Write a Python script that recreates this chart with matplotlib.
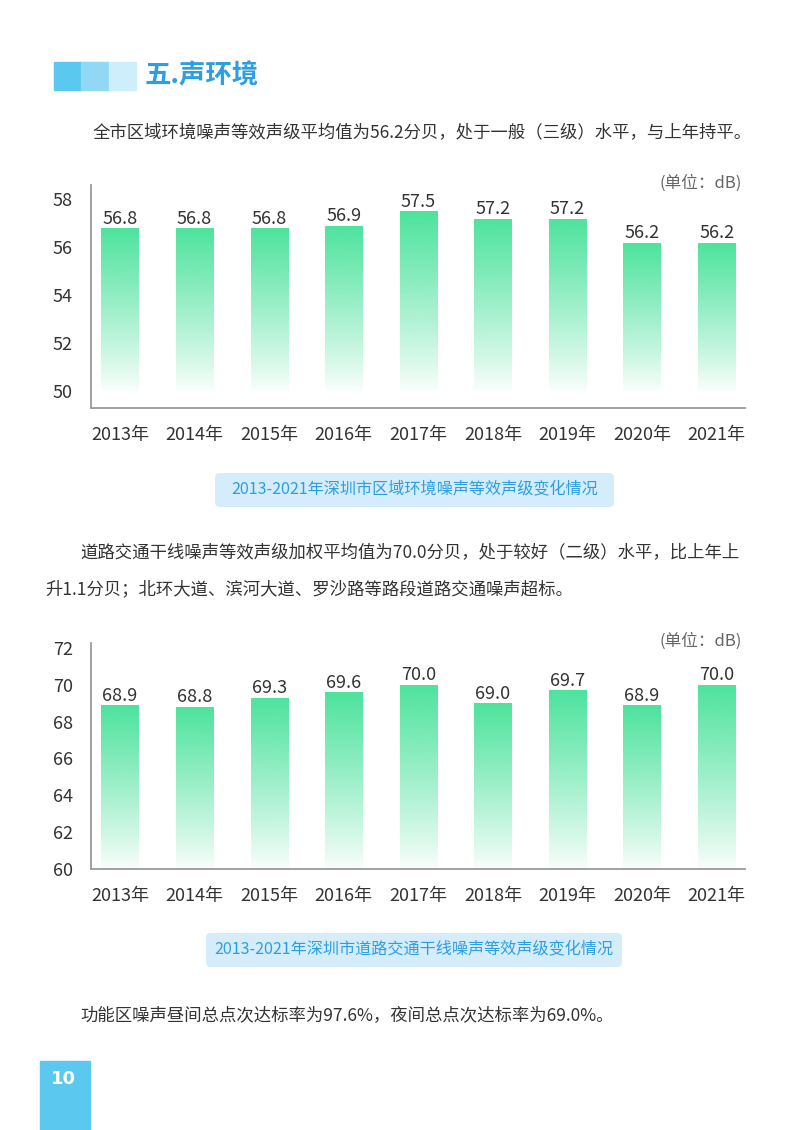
import numpy as np
import matplotlib.pyplot as plt
from matplotlib.patches import Rectangle, FancyBboxPatch

plt.rcParams['font.family'] = ['Noto Sans CJK SC', 'DejaVu Sans']

# 数据
years = ['2013年', '2014年', '2015年', '2016年', '2017年', '2018年', '2019年', '2020年', '2021年']
area_noise = [56.8, 56.8, 56.8, 56.9, 57.5, 57.2, 57.2, 56.2, 56.2]
road_noise = [68.9, 68.8, 69.3, 69.6, 70.0, 69.0, 69.7, 68.9, 70.0]
area_ticks = [50, 52, 54, 56, 58]
road_ticks = [60, 62, 64, 66, 68, 70, 72]

GREEN = np.array([0x4d, 0xe3, 0x9d]) / 255
TXT = '#333333'
BLUE = '#2c9fe2'


def gradient_bars(ax, values, base, ylim, ticks):
    bars = ax.bar(range(len(values)), np.array(values) - base, bottom=base,
                  width=0.5, color='none', edgecolor='none')
    grad = np.zeros((256, 1, 4))
    grad[:, 0, :3] = GREEN
    grad[:, 0, 3] = np.linspace(1.0, 0.02, 256) ** 0.9
    for b, v in zip(bars, values):
        x0, w = b.get_x(), b.get_width()
        im = ax.imshow(grad, extent=[x0, x0 + w, base, v], aspect='auto',
                       interpolation='bilinear', zorder=2)
        im.set_clip_path(b)
        ax.text(x0 + w / 2, v + (ylim[1] - ylim[0]) * 0.002, f'{v:.1f}',
                ha='center', va='bottom', fontsize=13, color=TXT)
    ax.set_xlim(-0.39, len(values) - 0.62)
    ax.set_ylim(*ylim)
    ax.set_yticks(ticks)
    ax.set_xticks(range(len(values)))
    ax.set_xticklabels(years)
    for s in ['top', 'right']:
        ax.spines[s].set_visible(False)
    for s in ['left', 'bottom']:
        ax.spines[s].set_color('#9a9a9a')
        ax.spines[s].set_linewidth(1.3)
    ax.tick_params(length=0, labelsize=13, colors=TXT)
    ax.tick_params(axis='x', pad=13)
    ax.tick_params(axis='y', pad=13)
    ax.text(0.995, 1.01, '(单位：dB)', transform=ax.transAxes, ha='right',
            va='center', fontsize=12, color='#666666')


fig = plt.figure(figsize=(8, 11.3), dpi=100)

# 标题
for i, c in enumerate(['#5bc8f0', '#90d8f4', '#cdeefa']):
    fig.patches.append(Rectangle(((54 + 27.3 * i) / 800, 1 - 90 / 1130), 27.3 / 800, 28 / 1130,
                                 transform=fig.transFigure, color=c))
fig.text(145 / 800, 1 - 76 / 1130, '五.声环境', fontsize=19, color=BLUE,
         fontweight='bold', va='center')

fig.text(93 / 800, 1 - 133 / 1130,
         '全市区域环境噪声等效声级平均值为56.2分贝，处于一般（三级）水平，与上年持平。',
         fontsize=12.5, color=TXT, va='center')

ax1 = fig.add_axes([91 / 800, 1 - 408 / 1130, 654 / 800, 223 / 1130])
gradient_bars(ax1, area_noise, 50, (49.3, 58.6), area_ticks)


def caption(x0, x1, yc, text):
    fig.patches.append(FancyBboxPatch((x0 / 800, 1 - (yc + 17) / 1130), (x1 - x0) / 800, 34 / 1130,
                                      boxstyle='round,pad=0,rounding_size=0.005',
                                      transform=fig.transFigure, color='#d5ecfa', ec='none'))
    fig.text((x0 + x1) / 2 / 800, 1 - yc / 1130, text, ha='center', va='center',
             fontsize=11.6, color=BLUE)


caption(215, 614, 490, '2013-2021年深圳市区域环境噪声等效声级变化情况')

fig.text(80 / 800, 1 - 553 / 1130,
         '道路交通干线噪声等效声级加权平均值为70.0分贝，处于较好（二级）水平，比上年上',
         fontsize=12.5, color=TXT, va='center')
fig.text(45 / 800, 1 - 589 / 1130,
         '升1.1分贝；北环大道、滨河大道、罗沙路等路段道路交通噪声超标。',
         fontsize=12.5, color=TXT, va='center')

ax2 = fig.add_axes([91 / 800, 1 - 869 / 1130, 654 / 800, 226 / 1130])
gradient_bars(ax2, road_noise, 60, (60, 72.27), road_ticks)

caption(206, 622, 950, '2013-2021年深圳市道路交通干线噪声等效声级变化情况')

fig.text(80 / 800, 1 - 1015 / 1130,
         '功能区噪声昼间总点次达标率为97.6%，夜间总点次达标率为69.0%。',
         fontsize=12.5, color=TXT, va='center')

# 页码
fig.patches.append(Rectangle((40 / 800, 0), 50 / 800, 69 / 1130,
                             transform=fig.transFigure, color='#5bc8f0'))
fig.text(63 / 800, 1 - 1079 / 1130, '10', ha='center', va='center', fontsize=13,
         color='white', fontweight='bold', family='DejaVu Sans')

fig.savefig('out.png', dpi=100)
